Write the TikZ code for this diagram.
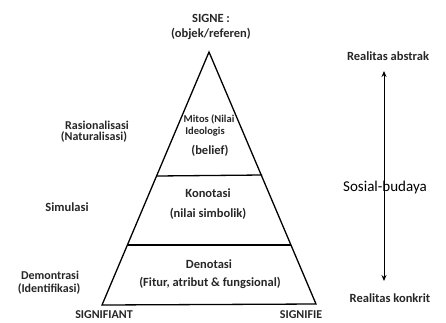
\documentclass[tikz,border=0pt]{standalone}
\usepackage{fontspec}
\setmainfont{Carlito}
\usetikzlibrary{arrows.meta}
\begin{document}
\begin{tikzpicture}[x=1pt,y=-1pt,
  lbl/.style={font=\bfseries\fontsize{12.5}{14}\selectfont, text=black!85, inner sep=0pt, align=center},
  mid/.style={font=\bfseries\fontsize{12}{13}\selectfont, text=black!85, inner sep=0pt, align=center},
  small/.style={font=\bfseries\fontsize{10.5}{12}\selectfont, text=black!85, inner sep=0pt, align=center},
  edge/.style={line width=1.3pt, black}]
\useasboundingbox (0,0) rectangle (446,322);
\coordinate (A) at (209,52);
\coordinate (L) at (102,305);
\coordinate (R) at (316,304);
\draw[edge, line join=miter] (A) -- (L) -- (R) -- cycle;
\coordinate (d1l) at (156.5,176);
\coordinate (d1r) at (262,175);
\coordinate (d2l) at (127,245);
\coordinate (d2r) at (291,245);
\draw[edge] (d1l) -- (d1r);
\draw[edge] (d2l) -- (d2r);
\node[lbl] (signe) at (211,18) {SIGNE :};
\node[lbl] (obj) at (211,34) {(objek/referen)};
\node[small] (mit1) at (209,119) {Mitos (Nilai};
\node[small] (mit2) at (205,132) {Ideologis};
\node[lbl] (bel) at (210,151) {(belief)};
\node[lbl] (kon) at (208,193) {Konotasi};
\node[lbl] (nil) at (208,214) {(nilai simbolik)};
\node[lbl] (den) at (209,264) {Denotasi};
\node[lbl] (fit) at (210,283) {(Fitur, atribut \& fungsional)};
\node[mid] (ras1) at (97,125) {Rasionalisasi};
\node[mid] (ras2) at (94,137) {(Naturalisasi)};
\node[lbl] (sim) at (67,207) {Simulasi};
\node[mid] (dem1) at (50,275) {Demontrasi};
\node[mid] (dem2) at (49,289) {(Identifikasi)};
\node[mid] (sfa) at (104,315) {SIGNIFIANT};
\node[mid] (sfe) at (301,315) {SIGNIFIE};
\node[lbl] (rab) at (388,56) {Realitas abstrak};
\node[lbl] (rko) at (390,298) {Realitas konkrit};
\coordinate (at) at (384,71);
\coordinate (ab) at (384,281);
\draw[line width=0.9pt, {Stealth[length=6pt,width=5pt]}-{Stealth[length=6pt,width=5pt]}] (at) -- (ab);
\node[font=\fontsize{15}{17}\selectfont, inner sep=0pt] (sos) at (385,187) {Sosial-budaya};
\end{tikzpicture}
\end{document}
